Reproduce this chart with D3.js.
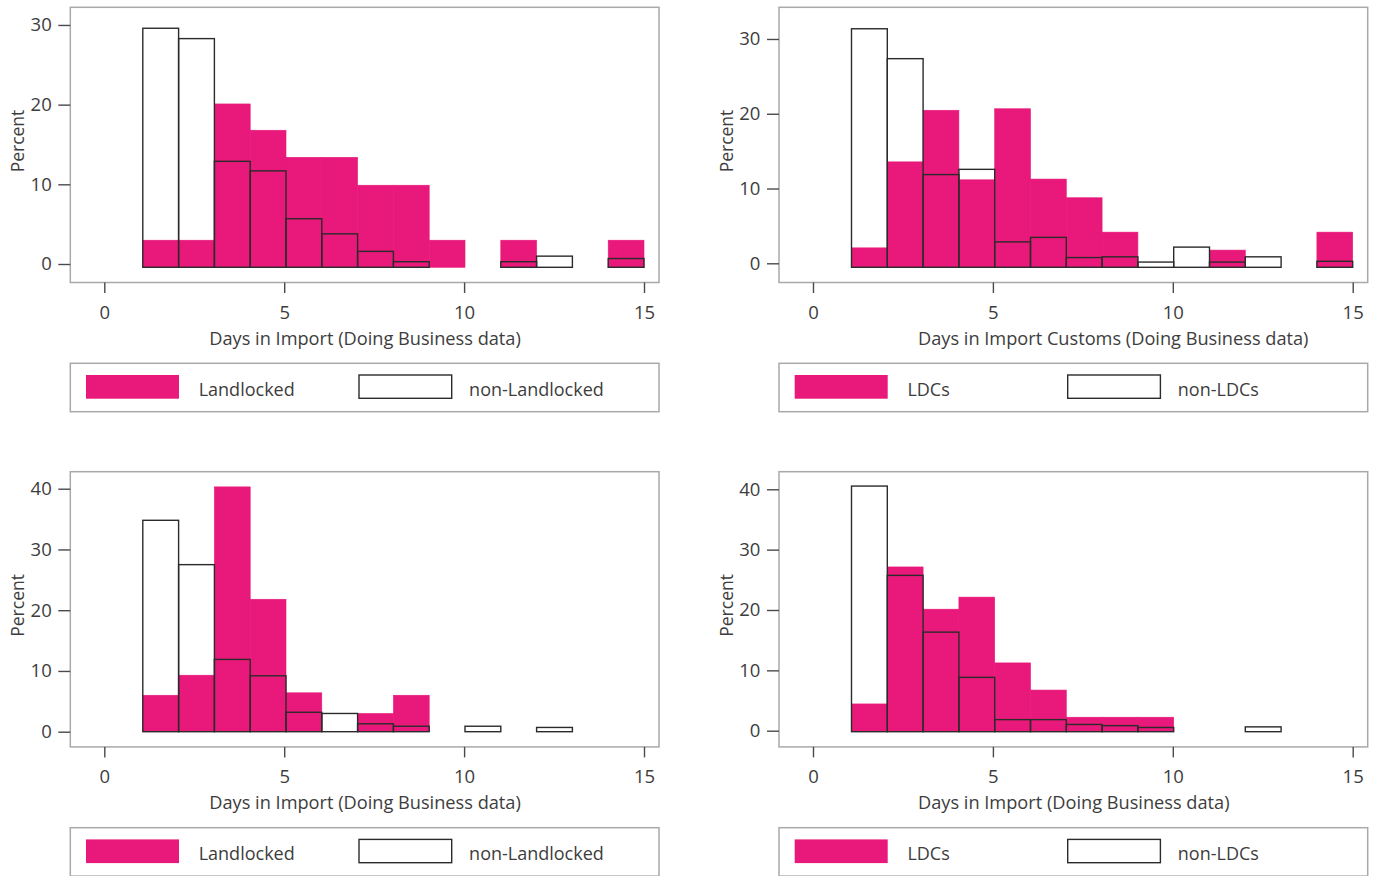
<!DOCTYPE html>
<html lang="en">
<head>
<meta charset="UTF-8">
<title>Days in Import histograms</title>
<script src="https://cdn.jsdelivr.net/npm/d3@7/dist/d3.min.js"></script>
<style>
    body { margin: 0; background: #fff; }
    text { font-family: "Open Sans", "Noto Sans", sans-serif; fill: #3d3d3d; }
    .frame { fill: none; stroke: #a9a9a9; stroke-width: 1.5; }
    .tick line { stroke: #4a4a4a; stroke-width: 1.4; }
    .outline { fill: none; stroke: #2b2b2b; stroke-width: 1.4; }
</style>
</head>
<body>
<div id="vis"></div>
<script>
// histogram bins (same for all four panels)
const binStart = 1.07, binEnd = 15, binCount = 14;
const xTicks = [0, 5, 10, 15];
const yTicksTop = [0, 10, 20, 30];
const yTicksBottom = [0, 10, 20, 30, 40];

// percent per bin
const landlockedImport    = [3.4, 3.4, 20.5, 17.2, 13.8, 13.8, 10.3, 10.3, 3.4, 0, 3.4, 0, 0, 3.4];
const nonLandlockedImport = [30.0, 28.7, 13.3, 12.1, 6.1, 4.2, 2.0, 0.7, 0, 0, 0.7, 1.4, 0, 1.1];
const ldcCustoms          = [2.6, 14.1, 21.0, 11.7, 21.2, 11.8, 9.3, 4.7, 0, 0, 2.3, 0, 0, 4.7];
const nonLdcCustoms       = [31.9, 27.9, 12.4, 13.1, 3.4, 4.0, 1.3, 1.4, 0.7, 2.7, 0.7, 1.4, 0, 0.8];
const landlockedImport2   = [6.0, 9.3, 40.3, 21.8, 6.4, 0, 3.0, 6.0, 0, 0, 0, 0, 0, 0];
const nonLandlockedImport2= [34.8, 27.5, 11.9, 9.2, 3.2, 3.0, 1.3, 0.9, 0, 0.9, 0, 0.7, 0, 0];
const ldcImport           = [4.6, 27.3, 20.3, 22.3, 11.4, 6.9, 2.4, 2.4, 2.4, 0, 0, 0, 0, 0];
const nonLdcImport        = [40.7, 25.9, 16.5, 9.0, 2.0, 2.0, 1.2, 1.0, 0.7, 0, 0, 0.8, 0, 0];

const xTitleImport = "Days in Import (Doing Business data)";
const xTitleCustoms = "Days in Import Customs (Doing Business data)";
const legendLandlocked = ["Landlocked", "non-Landlocked"];
const legendLdc = ["LDCs", "non-LDCs"];

const magenta = "#e8197a";

const panels = [
    {col: 0, row: 0, filled: landlockedImport, outline: nonLandlockedImport, yTicks: yTicksTop, yTop: 32.63, shift: -3.3, title: xTitleImport, legend: legendLandlocked},
    {col: 1, row: 0, filled: ldcCustoms, outline: nonLdcCustoms, yTicks: yTicksTop, yTop: 34.77, shift: -4, title: xTitleCustoms, legend: legendLdc},
    {col: 0, row: 1, filled: landlockedImport2, outline: nonLandlockedImport2, yTicks: yTicksBottom, yTop: 42.8, shift: 0, title: xTitleImport, legend: legendLandlocked},
    {col: 1, row: 1, filled: ldcImport, outline: nonLdcImport, yTicks: yTicksBottom, yTop: 43.08, shift: -1, title: xTitleImport, legend: legendLdc}
];

const W = 1373, H = 876;
const colLeft = [70.3, 779], rowTop = [7.3, 471.7];
const frameW = 588.7, frameH = 275.2, baseOff = 260;

const svg = d3.select("#vis").append("svg")
    .attr("width", W).attr("height", H);

const binW = (binEnd - binStart) / binCount;

function drawPanel(p) {
    const left = colLeft[p.col], top = rowTop[p.row];
    const bottom = top + frameH;
    const g = svg.append("g");

    const x = d3.scaleLinear().domain([0, 15]).range([left + 34, left + 573.7]);
    const y = d3.scaleLinear().domain([0, p.yTop]).range([top + baseOff, top]);

    const bins = d3.range(binCount).map(i => ({
        x0: binStart + i * binW,
        x1: binStart + (i + 1) * binW,
        a: p.filled[i],
        b: p.outline[i]
    }));

    // filled series (thin same-colour stroke hides seams between bars)
    g.selectAll("rect.fill").data(bins.filter(d => d.a > 0)).join("rect")
        .attr("class", "fill")
        .attr("x", d => x(d.x0))
        .attr("width", d => x(d.x1) - x(d.x0))
        .attr("y", d => y(d.a))
        .attr("height", d => y(0) - y(d.a))
        .attr("fill", magenta)
        .attr("stroke", magenta)
        .attr("stroke-width", 0.6);

    // outline series on top
    g.selectAll("rect.outline").data(bins.filter(d => d.b > 0)).join("rect")
        .attr("class", "outline")
        .attr("x", d => x(d.x0))
        .attr("width", d => x(d.x1) - x(d.x0))
        .attr("y", d => y(d.b))
        .attr("height", d => y(0) - y(d.b));

    // plot region frame
    g.append("rect").attr("class", "frame")
        .attr("x", left).attr("y", top)
        .attr("width", frameW).attr("height", frameH);

    // y axis
    const ya = g.append("g")
        .attr("transform", "translate(" + left + "," + p.shift + ")")
        .call(d3.axisLeft(y).tickValues(p.yTicks).tickSize(12).tickPadding(6.6));
    ya.select(".domain").remove();
    ya.selectAll("text").style("font-size", "18.5px").attr("fill", "#3d3d3d");

    // x axis
    const xa = g.append("g")
        .attr("transform", "translate(0," + bottom + ")")
        .call(d3.axisBottom(x).tickValues(xTicks).tickSize(10.5).tickPadding(12.4));
    xa.select(".domain").remove();
    xa.selectAll("text").style("font-size", "18.5px").attr("fill", "#3d3d3d");

    g.append("text")
        .attr("transform", "translate(" + (left - 46.3) + "," + (top + 133.7) + ") rotate(-90)")
        .attr("text-anchor", "middle")
        .style("font-size", "17.5px")
        .text("Percent");

    g.append("text")
        .attr("x", left + 139).attr("y", bottom + 62.5)
        .style("font-size", "18.2px")
        .text(p.title);

    // legend
    const ly = bottom + 80.8;
    g.append("rect").attr("class", "frame")
        .attr("x", left).attr("y", ly)
        .attr("width", frameW).attr("height", 48.4);
    g.append("rect")
        .attr("x", left + 15.7).attr("y", ly + 11.7)
        .attr("width", 93).attr("height", 23.7)
        .attr("fill", magenta);
    g.append("rect").attr("class", "outline")
        .attr("x", left + 288.7).attr("y", ly + 11.7)
        .attr("width", 92.7).attr("height", 23.3);
    g.append("text")
        .attr("x", left + 128.4).attr("y", ly + 32.4)
        .style("font-size", "18px")
        .text(p.legend[0]);
    g.append("text")
        .attr("x", left + 398.8).attr("y", ly + 32.4)
        .style("font-size", "18px")
        .text(p.legend[1]);
}

panels.forEach(drawPanel);
</script>
</body>
</html>
